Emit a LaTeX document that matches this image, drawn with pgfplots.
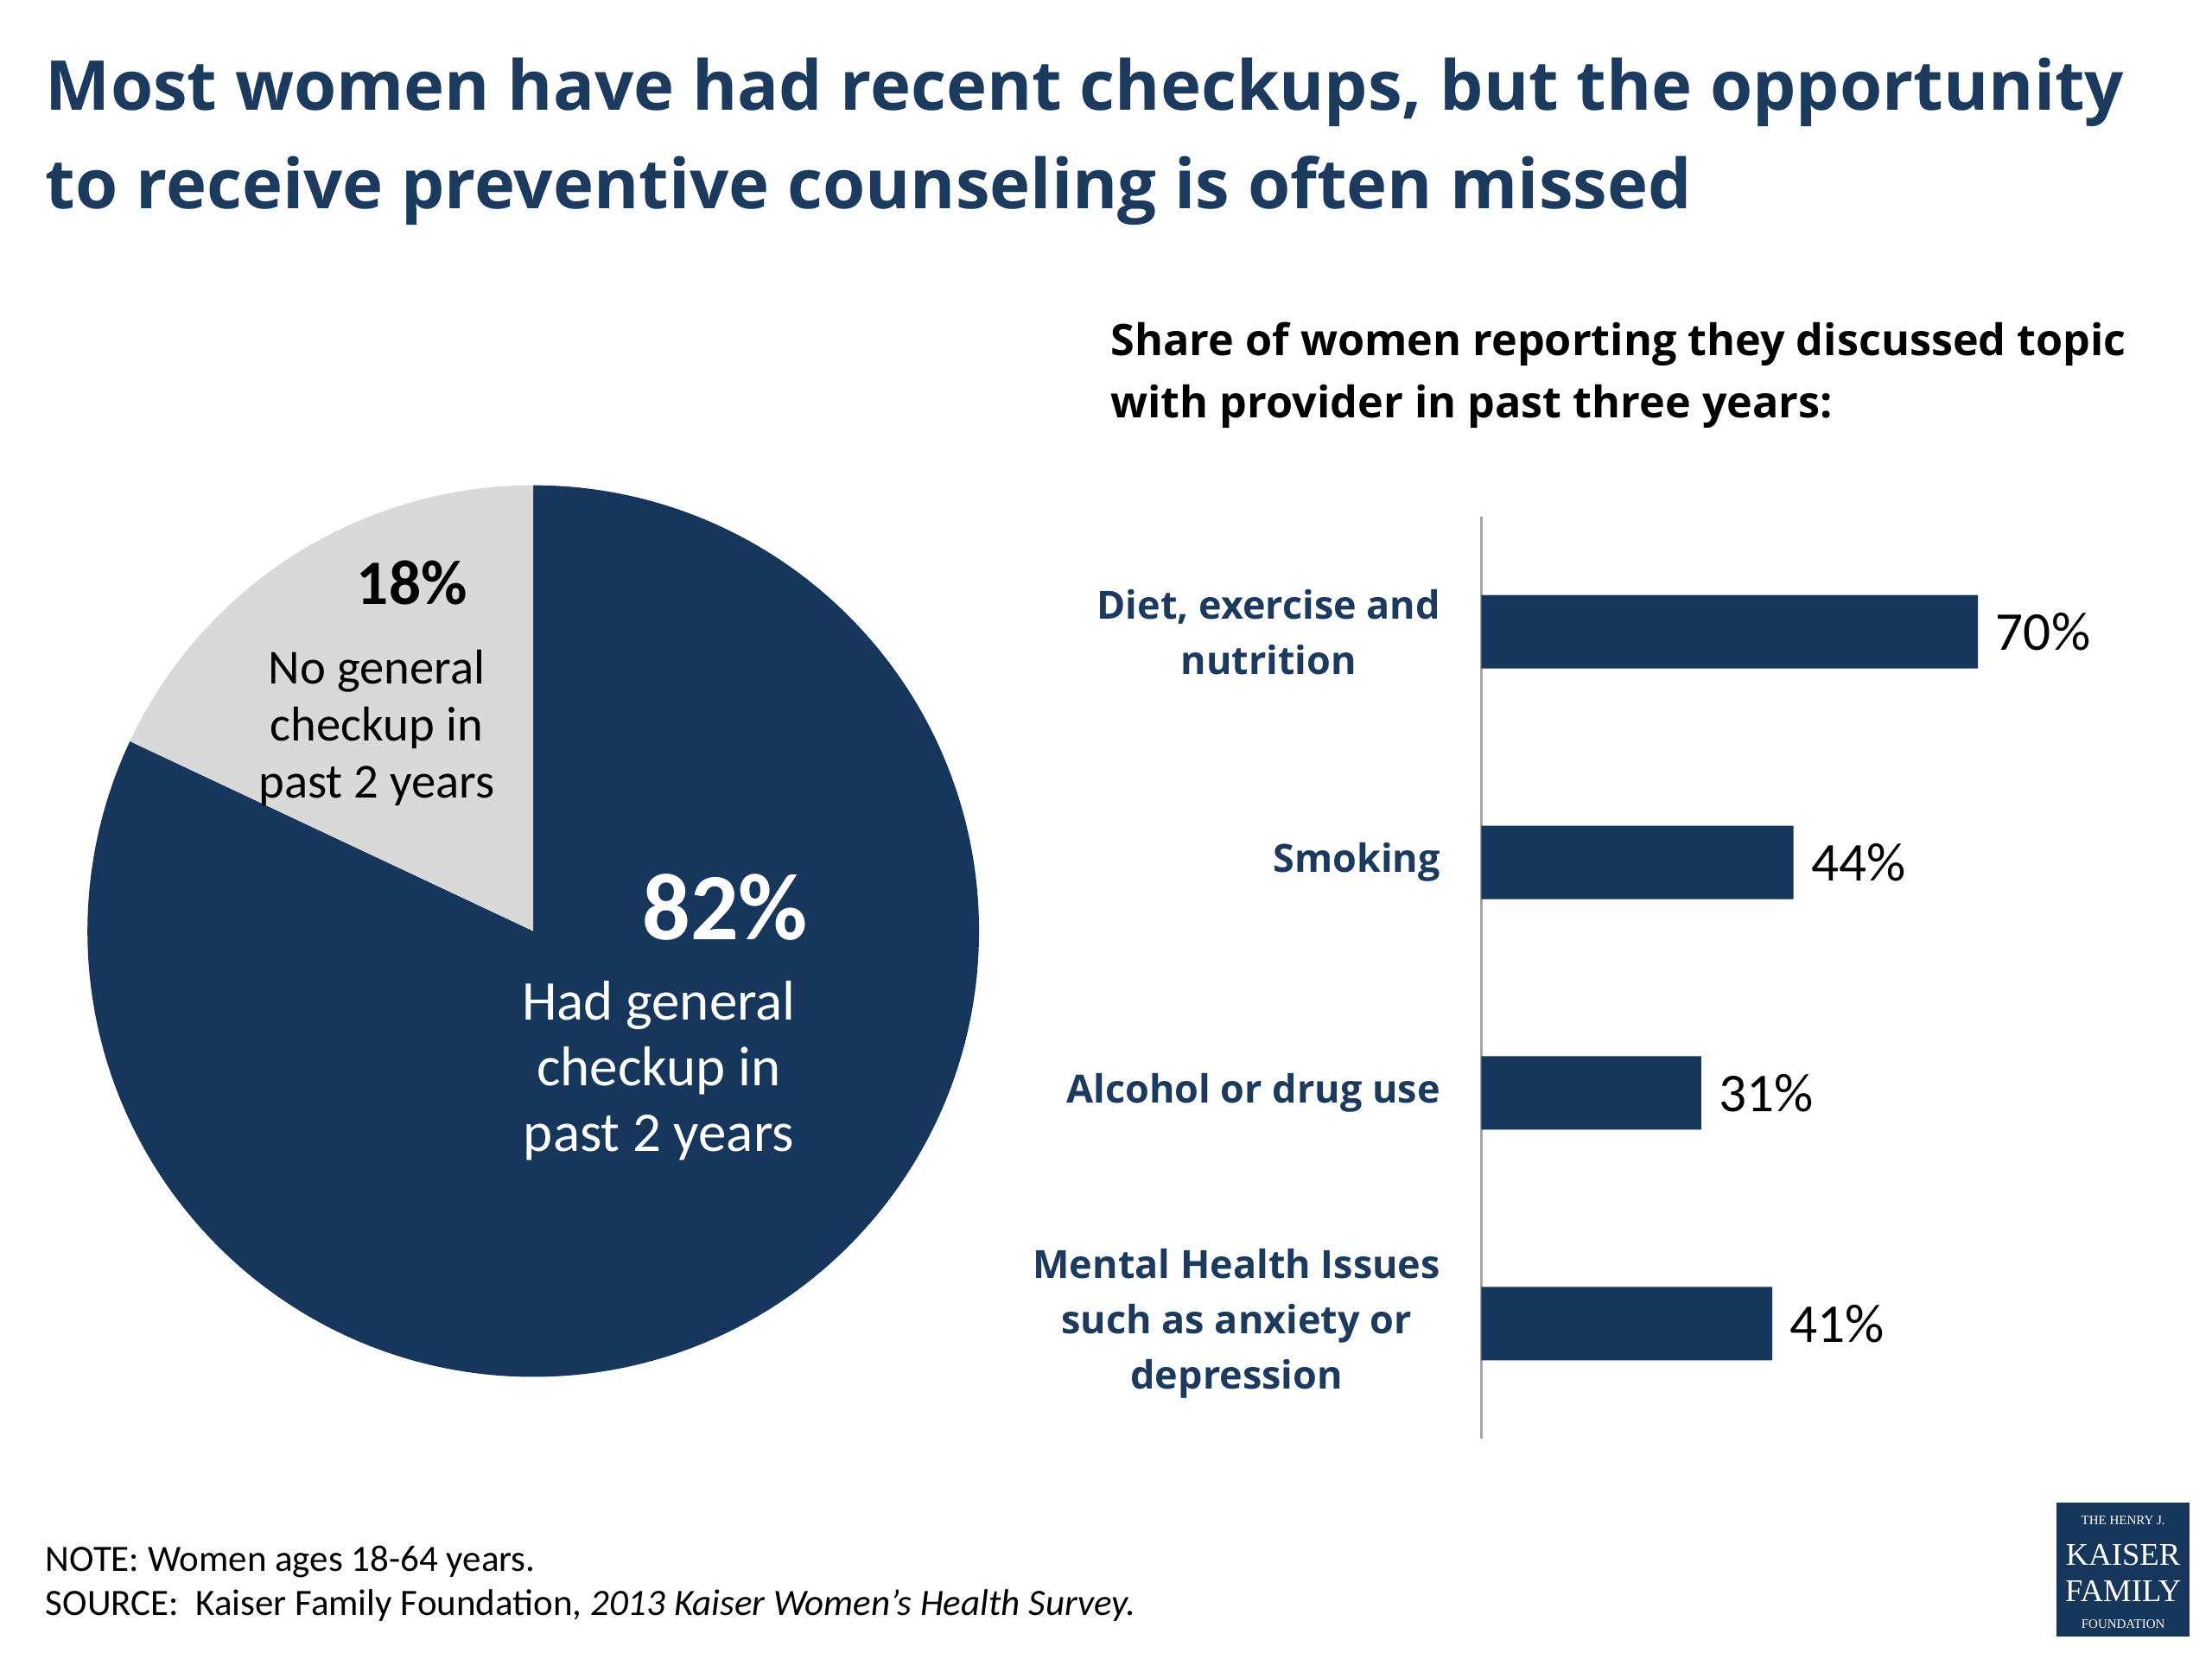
\documentclass[border=0pt]{standalone}
\usepackage{pgfplots}
\pgfplotsset{compat=1.18}
\usepackage{fontspec}
\setmainfont{Carlito}
\newfontfamily\hfont{Open Sans}
\newfontfamily\sfont{Liberation Serif}
\definecolor{navy}{HTML}{16365C}
\definecolor{tnavy}{HTML}{1B3A5E}
\definecolor{lgray}{HTML}{D9D9D9}
\newcommand{\fs}[1]{\fontsize{#1}{1.2\dimexpr#1pt\relax}\selectfont}
\begin{document}
\begin{tikzpicture}[x=0.49pt,y=-0.49pt]
\path[fill=white,use as bounding box] (0,0) rectangle (1568,1176);
% title
\node[anchor=base west,inner sep=0pt,text=tnavy,font=\hfont\bfseries\fs{23.9}] at (32,78) {Most women have had recent checkups, but the opportunity};
\node[anchor=base west,inner sep=0pt,text=tnavy,font=\hfont\bfseries\fs{23.9}] at (32,148) {to receive preventive counseling is often missed};
% subtitle
\node[anchor=base west,inner sep=0pt,font=\hfont\bfseries\fs{15.1}] at (787,252) {Share of women reporting they discussed topic};
\node[anchor=base west,inner sep=0pt,font=\hfont\bfseries\fs{15.1}] at (787,296) {with provider in past three years:};
% pie
\pgfmathsetmacro{\ang}{-90-3.6*18}
\fill[navy] (378,660) -- ++(0,-316) arc[start angle=-90,end angle={\ang+360},radius=316] -- cycle;
\fill[lgray] (378,660) -- ++(0,-316) arc[start angle=-90,end angle=\ang,radius=316] -- cycle;
\node[font=\bfseries\fs{22}] at (292,413) {18\%};
\node[align=center,font=\fs{17},inner sep=0pt] at (267,516) {No general\\[-0.5pt]checkup in\\[-0.5pt]past 2 years};
\node[text=white,font=\bfseries\fs{33}] at (514,643) {82\%};
\node[text=white,align=center,font=\fs{19.5},inner sep=0pt] at (467,759) {Had general\\[-0.5pt]checkup in\\[-0.5pt]past 2 years};
% bars
\begin{axis}[at={(514.5pt,-499.8pt)},anchor=south west,scale only axis,
  x=2.465pt,y=80.1pt,
  xbar,xmin=0,xmax=100,ymin=0.5,ymax=4.5,y dir=reverse,
  bar width=25.5pt,
  axis x line=none,axis y line*=left,
  y axis line style={draw=gray!70,line width=1pt,-},
  ytick={1,2,3,4},major tick length=0pt,
  yticklabels={{Diet, exercise and\\[3pt]nutrition},{Smoking},{Alcohol or drug use},{Mental Health Issues\\[3pt]such as anxiety or\\[3pt]depression}},
  yticklabel style={align=center,text=tnavy,font=\hfont\bfseries\fs{13.5},inner xsep=0pt,xshift=-14pt},
  /pgf/number format/assume math mode=true,
  nodes near coords={\pgfmathprintnumber{\pgfplotspointmeta}\%},
  point meta=x,
  every node near coord/.style={anchor=west,inner xsep=0pt,xshift=6pt,font=\fs{19},text=black},
  clip=false]
\addplot[fill=navy,draw=none] coordinates {(70,1) (44,2) (31,3) (41,4)};
\end{axis}
% footer
\node[anchor=base west,inner sep=0pt,font=\fs{12.9}] at (32,1114) {NOTE: Women ages 18-64 years.};
\node[anchor=base west,inner sep=0pt,font=\fs{12.9}] at (32,1145) {SOURCE:\ \ Kaiser Family Foundation, \textit{2013 Kaiser Women’s Health Survey.}};
% logo
\fill[navy] (1458,1065) rectangle (1552,1160);
\node[text=white,inner sep=0pt,font=\sfont\fs{4.5}] at (1505,1078) {THE HENRY J.};
\node[text=white,inner sep=0pt,font=\sfont\fs{11}] at (1505,1102) {KAISER};
\node[text=white,inner sep=0pt,font=\sfont\fs{11}] at (1505,1128) {FAMILY};
\node[text=white,inner sep=0pt,font=\sfont\fs{4.5}] at (1505,1151) {FOUNDATION};
\end{tikzpicture}
\end{document}
